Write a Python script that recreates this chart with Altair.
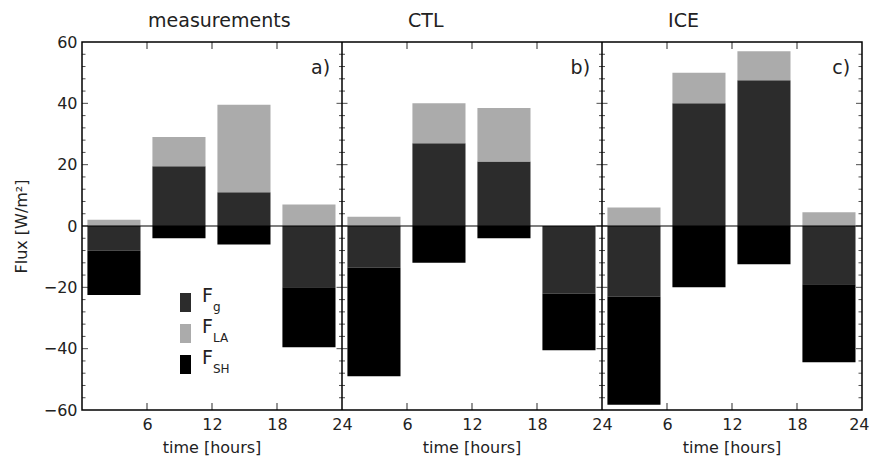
import altair as alt
import pandas as pd

# ---------------- data ----------------
panels = ["measurements", "CTL", "ICE"]
panel_tags = ["a)", "b)", "c)"]
bar_start = [0.5, 6.5, 12.5, 18.5]
bar_end = [5.4, 11.4, 17.4, 23.4]
series = ["Fg", "FLA", "FSH"]

Fg = {"measurements": [-8, 19.5, 11, -20],
      "CTL": [-13.5, 27, 21, -22],
      "ICE": [-23, 40, 47.5, -19]}
FLA = {"measurements": [2, 9.5, 28.5, 7],
       "CTL": [3, 13, 17.5, 0],
       "ICE": [6, 10, 9.5, 4.5]}
FSH = {"measurements": [-14.5, -4, -6, -19.5],
       "CTL": [-35.5, -12, -4, -18.5],
       "ICE": [-35.3, -20, -12.5, -25.4]}

x_tick_labels = [6, 12, 18, 24]
y_major = [-60, -40, -20, 0, 20, 40, 60]
y_minor = [v for v in range(-56, 60, 4) if v % 20 != 0]

colors = ["#2c2c2c", "#ababab", "#000000"]
FONT = "DejaVu Sans"
W, H = 780, 368

# ---------------- build tables ----------------
rows = []
vals = {"Fg": Fg, "FLA": FLA, "FSH": FSH}
for pi, p in enumerate(panels):
    for j in range(4):
        pos, neg = 0.0, 0.0
        for k, s in enumerate(series):
            v = vals[s][p][j]
            if v >= 0:
                y0, y1 = pos, pos + v
                pos = y1
            else:
                y0, y1 = neg, neg + v
                neg = y1
            rows.append({"panel": p, "series": s, "ord": k,
                         "x0": pi * 24 + bar_start[j], "x1": pi * 24 + bar_end[j],
                         "y0": y0, "y1": y1})
df = pd.DataFrame(rows)

xscale = alt.Scale(domain=[0, 72], nice=False, zero=False)
yscale = alt.Scale(domain=[-60, 60], nice=False, zero=False)

x_axis_values = [pi * 24 + v for pi in range(3) for v in x_tick_labels]

bars = alt.Chart(df).mark_bar(strokeWidth=0).encode(
    x=alt.X("x0:Q", scale=xscale,
            axis=alt.Axis(values=x_axis_values, title=None, ticks=False, domain=False,
                          grid=False, labelFontSize=16, labelFont=FONT, labelColor="#222",
                          labelPadding=6, labelFlush=True, labelFlushOffset=7,
                          labelExpr="datum.value % 24 == 0 ? '24' : toString(datum.value % 24)")),
    x2="x1:Q",
    y=alt.Y("y0:Q", scale=yscale,
            axis=alt.Axis(values=y_major, title="Flux [W/m²]", ticks=False, domain=False,
                          grid=False, labelFontSize=16, labelFont=FONT, labelColor="#222",
                          labelPadding=5, titleFont=FONT, titleFontSize=16,
                          titleFontWeight="normal", titleColor="#222",
                          titleX=-61, titleY=H / 2, titleAngle=-90,
                          titleAlign="center", titleBaseline="middle")),
    y2="y1:Q",
    color=alt.Color("series:N", scale=alt.Scale(domain=series, range=colors), legend=None),
)

zero = alt.Chart(pd.DataFrame({"y": [0]})).mark_rule(color="black", strokeWidth=1.2).encode(
    y=alt.Y("y:Q", scale=yscale))

bounds = alt.Chart(pd.DataFrame({"x": [24, 48]})).mark_rule(color="black", strokeWidth=1.5).encode(
    x=alt.X("x:Q", scale=xscale))

# y ticks
ymaj = pd.DataFrame({"y": y_major[1:-1]})
ymin = pd.DataFrame({"y": y_minor})
ib_maj = pd.DataFrame([{"x": b, "y": y} for b in [24, 48] for y in y_major[1:-1]])
ib_min = pd.DataFrame([{"x": b, "y": y} for b in [24, 48] for y in y_minor])

tick_layers = []
for d, size in [(ymaj, 6), (ymin, 3.5)]:
    tick_layers.append(alt.Chart(d).mark_tick(orient="horizontal", size=size, thickness=1, color="black")
                       .encode(y=alt.Y("y:Q", scale=yscale), x=alt.value(size / 2)))
    tick_layers.append(alt.Chart(d).mark_tick(orient="horizontal", size=size, thickness=1, color="black")
                       .encode(y=alt.Y("y:Q", scale=yscale), x=alt.value(W - size / 2)))
for d, size in [(ib_maj, 11), (ib_min, 6)]:
    tick_layers.append(alt.Chart(d).mark_tick(orient="horizontal", size=size, thickness=1, color="black")
                       .encode(y=alt.Y("y:Q", scale=yscale), x=alt.X("x:Q", scale=xscale)))

xt = pd.DataFrame({"x": [pi * 24 + v for pi in range(3) for v in [6, 12, 18]]})
for ypos in [3.5, H - 3.5]:
    tick_layers.append(alt.Chart(xt).mark_tick(orient="vertical", size=7, thickness=1.2, color="black")
                       .encode(x=alt.X("x:Q", scale=xscale), y=alt.value(ypos)))

# titles
tdf = pd.DataFrame({"t": panels, "x": [pi * 24 + 6.1 for pi in range(3)]})
titles = alt.Chart(tdf).mark_text(align="left", baseline="middle", fontSize=19, font=FONT,
                                   color="#222").encode(
    x=alt.X("x:Q", scale=xscale), y=alt.value(-21), text="t:N")

gdf = pd.DataFrame({"t": panel_tags, "x": [(pi + 1) * 24 - 1.1 for pi in range(3)]})
tags = alt.Chart(gdf).mark_text(align="right", baseline="middle", fontSize=19, font=FONT,
                                color="#222").encode(
    x=alt.X("x:Q", scale=xscale), y=alt.value(26), text="t:N")

xdf = pd.DataFrame({"t": ["time [hours]"] * 3, "x": [pi * 24 + 12 for pi in range(3)]})
xtitles = alt.Chart(xdf).mark_text(align="center", baseline="middle", fontSize=16, font=FONT,
                                   color="#222").encode(
    x=alt.X("x:Q", scale=xscale), y=alt.value(H + 38), text="t:N")

# legend
one = pd.DataFrame({"a": [0]})
leg_layers = []
leg_y = [251, 282, 313]
subs = ["g", "LA", "SH"]
for i, s in enumerate(series):
    leg_layers.append(alt.Chart(one).mark_rect(color=colors[i]).encode(
        x=alt.value(98), x2=alt.value(109), y=alt.value(leg_y[i]), y2=alt.value(leg_y[i] + 19)))
    leg_layers.append(alt.Chart(one).mark_text(text="F", align="left", baseline="middle",
                                               fontSize=19, font=FONT, color="#222").encode(
        x=alt.value(120), y=alt.value(leg_y[i] + 3)))
    leg_layers.append(alt.Chart(one).mark_text(text=subs[i], align="left", baseline="middle",
                                               fontSize=12, font=FONT, color="#222").encode(
        x=alt.value(131), y=alt.value(leg_y[i] + 14)))

chart = alt.layer(bars, zero, bounds, *tick_layers, titles, tags, xtitles, *leg_layers).properties(
    width=W, height=H,
    autosize=alt.AutoSizeParams(type="none"),
    padding={"left": 82, "top": 42, "right": 8, "bottom": 47},
    background="white",
).configure_view(stroke="black", strokeWidth=1.5, fill="white")

chart.save("out.html", embed_options={"renderer": "svg", "actions": False})
